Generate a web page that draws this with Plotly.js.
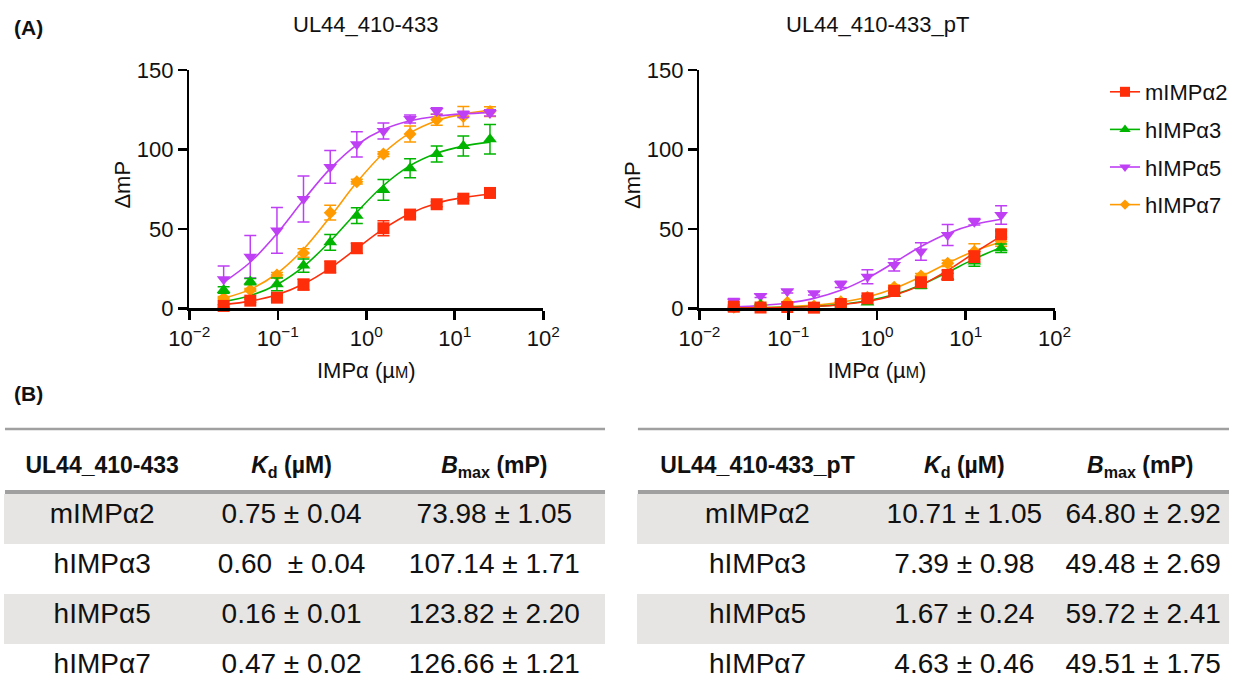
<!DOCTYPE html>
<html>
<head>
<meta charset="utf-8">
<script src="https://cdn.plot.ly/plotly-3.0.1.min.js"></script>
<style>html,body{margin:0;padding:0;background:#fff;overflow:hidden}#chart{width:1233px;height:700px}</style>
</head>
<body>
<div id="chart"></div>
<script>
// ---------- data ----------
const seriesNames = ['mIMPα2', 'hIMPα3', 'hIMPα5', 'hIMPα7'];
const conc = [0.0244, 0.0488, 0.0977, 0.195, 0.391, 0.781, 1.5625, 3.125, 6.25, 12.5, 25];

// Panel 1: UL44_410-433 (measured ΔmP, mean ± SD)
const a_m2 = [1.5, 4.8, 6.7, 14.9, 26, 37.8, 50.4, 59, 65.5, 69, 72.6];
const a_m2_err = [0.8, 1, 1.5, 3.4, 3.8, 3.1, 4.7, 1.5, 1.5, 1.2, 1.5];
const a_h3 = [11.5, 16.8, 15.1, 26.9, 41.5, 58.3, 74.5, 88.1, 97.1, 102.2, 106.4];
const a_h3_err = [2, 2, 4, 4.2, 5, 5, 6.5, 6, 5, 6.3, 9.3];
const a_h5 = [18.3, 32.5, 49, 68.8, 89, 103.2, 111.6, 119.2, 124.2, 122.1, 123];
const a_h5_err = [8.4, 13.4, 14.4, 14.4, 10.3, 8, 5, 2.5, 2, 2, 2];
const a_h7 = [6.5, 11.5, 21, 34.8, 60.2, 79.7, 97.1, 109.7, 118.7, 120.8, 123.8];
const a_h7_err = [1, 1, 1.5, 2.7, 4.6, 1.5, 1.5, 5, 3.5, 6.3, 3.1];
// Panel 1 fitted curves (read at the same concentrations)
const a_m2_fit = [2.3, 4.5, 8.5, 15.3, 25.3, 37.7, 50, 59.7, 66.1, 69.8, 71.8];
const a_h3_fit = [4.2, 8.0, 15, 26.3, 42.2, 60.5, 77.3, 89.8, 97.6, 102.1, 104.6];
const a_h5_fit = [16.4, 29, 47, 68.1, 87.9, 102.9, 112.5, 118, 120.9, 122.4, 123.2];
const a_h7_fit = [6.3, 11.9, 21.9, 37.2, 57.6, 79.3, 97.6, 110.4, 118.1, 122.4, 124.7];

// Panel 2: UL44_410-433_pT
const b_m2 = [1.0, 0.5, 0.8, 0.4, 2.7, 6.3, 10.9, 16.4, 21, 32.5, 46.6];
const b_m2_err = [0.5, 0.5, 0.5, 0.5, 1, 1.5, 1.5, 1.5, 3, 3.5, 2];
const b_h3 = [0, 2.1, 1.0, 0, 1.0, 3.6, 9, 14, 20, 29.4, 37.8];
const b_h3_err = [0.5, 0.5, 0.5, 0.5, 0.5, 1, 1, 1.5, 2, 3, 2.7];
const b_h5 = [4.2, 7.8, 10.7, 9.4, 15.1, 19.9, 27.3, 35.7, 46.2, 54.5, 58.7];
const b_h5_err = [2, 1, 1, 1, 2, 4.4, 3.8, 5.5, 6.6, 2, 5.8];
const b_h7 = [0.6, 2.1, 3.6, 1.5, 4.2, 6.9, 13.2, 20.4, 28.3, 35.7, 42];
const b_h7_err = [0.5, 0.5, 0.5, 0.5, 1, 1, 1.5, 1.5, 2, 5, 3];
const b_m2_fit = [0.15, 0.3, 0.58, 1.16, 2.28, 4.4, 8.24, 14.6, 23.9, 34.9, 45.4];
const b_h3_fit = [0.16, 0.33, 0.65, 1.28, 2.48, 4.72, 8.62, 14.7, 22.7, 31.1, 38.2];
const b_h5_fit = [0.86, 1.69, 3.3, 6.24, 11.3, 19.0, 28.8, 38.9, 47.1, 52.7, 56.0];
const b_h7_fit = [0.26, 0.52, 1.02, 2.0, 3.85, 7.14, 12.5, 19.9, 28.4, 36.1, 41.7];

// axis ticks
const xTickVals = [0.01, 0.1, 1, 10, 100];
const xTickText = ['10<sup>−2</sup>', '10<sup>−1</sup>', '10<sup>0</sup>', '10<sup>1</sup>', '10<sup>2</sup>'];
const yTickVals = [0, 50, 100, 150];

// tables
const tableA_title = 'UL44_410-433';
const tableB_title = 'UL44_410-433_pT';
const tableA_kd = ['0.75 ± 0.04', '0.60  ± 0.04', '0.16 ± 0.01', '0.47 ± 0.02'];
const tableA_bmax = ['73.98 ± 1.05', '107.14 ± 1.71', '123.82 ± 2.20', '126.66 ± 1.21'];
const tableB_kd = ['10.71 ± 1.05', '7.39 ± 0.98', '1.67 ± 0.24', '4.63 ± 0.46'];
const tableB_bmax = ['64.80 ± 2.92', '49.48 ± 2.69', '59.72 ± 2.41', '49.51 ± 1.75'];

// ---------- styling ----------
const W = 1233, H = 700;
const FONT = 'Liberation Sans, Arial, Helvetica, sans-serif';
const colors = ['#FF2E0A', '#00B400', '#BF3FF5', '#FF9A00'];
const symbols = ['square', 'triangle-up', 'triangle-down', 'diamond'];
const msize = [12, 12, 12, 10];
const px = x => x / W;
const py = y => 1 - y / H;
const nb = s => s.replace(/ /g, '\u00a0');

const panels = [
  {xa: 'x', ya: 'y', pts: [a_m2, a_h3, a_h5, a_h7], err: [a_m2_err, a_h3_err, a_h5_err, a_h7_err], fit: [a_m2_fit, a_h3_fit, a_h5_fit, a_h7_fit]},
  {xa: 'x2', ya: 'y2', pts: [b_m2, b_h3, b_h5, b_h7], err: [b_m2_err, b_h3_err, b_h5_err, b_h7_err], fit: [b_m2_fit, b_h3_fit, b_h5_fit, b_h7_fit]}
];
const drawOrder = [3, 2, 1, 0];
const traces = [];
panels.forEach(p => {
  drawOrder.forEach(i => {
    traces.push({x: conc, y: p.fit[i], xaxis: p.xa, yaxis: p.ya, type: 'scatter', mode: 'lines',
      line: {color: colors[i], width: 1.6, shape: 'spline'}, showlegend: false, hoverinfo: 'skip', cliponaxis: false});
  });
  drawOrder.forEach(i => {
    traces.push({x: conc, y: p.pts[i], xaxis: p.xa, yaxis: p.ya, type: 'scatter', mode: 'markers',
      marker: {color: colors[i], symbol: symbols[i], size: msize[i], line: {width: 0}},
      error_y: {type: 'data', array: p.err[i], visible: true, color: colors[i], thickness: 1.5, width: 6},
      showlegend: false, cliponaxis: false, name: seriesNames[i]});
  });
});
// legend entries
seriesNames.forEach((n, i) => {
  traces.push({x: [null], y: [null], xaxis: 'x2', yaxis: 'y2', type: 'scatter', mode: 'lines+markers', name: n,
    legendgroup: 'g' + i, line: {color: colors[i], width: 1.6},
    marker: {color: colors[i], symbol: symbols[i], size: msize[i] - 2}});
});

// tables (first cell row holds the column headings)
const rowFill = ['#FFFFFF', '#E6E5E3', '#FFFFFF', '#E6E5E3', '#FFFFFF'];
const rowSize = [23, 28, 28, 28, 28];
const kdHead = '<b><i>K</i><sub>d</sub>\u00a0(µM)</b>';
const bmHead = '<b><i>B</i><sub>max</sub>\u00a0(mP)</b>';
function makeTable(title, kd, bm, x0, x1, widths, align3) {
  return {
    type: 'table', domain: {x: [px(x0), px(x1)], y: [0, py(428)]},
    columnwidth: widths,
    header: {values: [[''], [''], ['']], align: 'center', height: 16,
      font: {family: FONT, size: 10, color: '#111'}, fill: {color: 'rgba(0,0,0,0)'}, line: {width: 0, color: 'rgba(0,0,0,0)'}},
    cells: {values: [['<b>' + nb(title) + '</b>'].concat(seriesNames), [kdHead].concat(kd.map(nb)), [bmHead].concat(bm.map(nb))],
      align: [['center'], ['center'], align3], height: 50,
      font: {family: FONT, size: [rowSize, rowSize, rowSize], color: '#111'},
      fill: {color: [rowFill, rowFill, rowFill]}, line: {width: 1, color: [rowFill, rowFill, rowFill]}}
  };
}
traces.push(makeTable(tableA_title, tableA_kd, tableA_bmax, 5, 607, [195, 185, 222], ['center']));
traces.push(makeTable(tableB_title, tableB_kd, tableB_bmax, 640, 1233, [240, 175, 178],
  ['center', 'right', 'right', 'right', 'right']));

const axisCommon = {
  showgrid: false, zeroline: false, showline: true, linecolor: '#000', linewidth: 2.6,
  ticks: 'outside', ticklen: 9, tickwidth: 2.6, tickcolor: '#000',
  tickfont: {family: FONT, size: 22, color: '#111'}, fixedrange: true
};
const xAxis = (dom) => Object.assign({}, axisCommon, {
  type: 'log', range: [-2, 2], domain: dom, tickmode: 'array', tickvals: xTickVals, ticktext: xTickText,
  title: {text: 'IMPα (µ<span style="font-size:16px">M</span>)', font: {family: FONT, size: 22, color: '#111'}, standoff: 13}
});
const yAxis = (anchor) => Object.assign({}, axisCommon, {
  range: [0, 150], domain: [py(308.3), py(70)], tickmode: 'array', tickvals: yTickVals, anchor: anchor
});

const ann = (text, x, y, opts) => Object.assign({text, x: px(x), y: py(y), xref: 'paper', yref: 'paper', showarrow: false,
  xanchor: 'center', yanchor: 'middle', font: {family: FONT, size: 22, color: '#111'}}, opts || {});

const layout = {
  width: W, height: H, margin: {l: 0, r: 0, t: 0, b: 0}, paper_bgcolor: '#fff', plot_bgcolor: '#fff',
  font: {family: FONT, color: '#111'},
  xaxis: Object.assign(xAxis([px(190), px(545)]), {anchor: 'y'}),
  yaxis: yAxis('x'),
  xaxis2: Object.assign(xAxis([px(701.7), px(1058)]), {anchor: 'y2'}),
  yaxis2: yAxis('x2'),
  showlegend: true,
  legend: {x: px(1109), y: py(71), xanchor: 'left', yanchor: 'top', font: {family: FONT, size: 22, color: '#111'},
    tracegroupgap: 6, bgcolor: 'rgba(0,0,0,0)', traceorder: 'grouped'},
  annotations: [
    ann('<b>(A)</b>', 12, 27, {xanchor: 'left', font: {family: FONT, size: 21, color: '#111'}}),
    ann('<b>(B)</b>', 12, 393, {xanchor: 'left', font: {family: FONT, size: 21, color: '#111'}}),
    ann('UL44_410-433', 367.5, 25),
    ann('UL44_410-433_pT', 880, 25),
    ann('ΔmP', 123, 185, {textangle: -90}),
    ann('ΔmP', 635, 185, {textangle: -90})
  ],
  shapes: [
    {type: 'line', xref: 'paper', yref: 'paper', x0: px(5), x1: px(607), y0: py(429), y1: py(429), line: {color: '#A0A0A0', width: 2.5}},
    {type: 'line', xref: 'paper', yref: 'paper', x0: px(5), x1: px(607), y0: py(492), y1: py(492), line: {color: '#A0A0A0', width: 4}},
    {type: 'line', xref: 'paper', yref: 'paper', x0: px(640), x1: 1, y0: py(429), y1: py(429), line: {color: '#A0A0A0', width: 2.5}},
    {type: 'line', xref: 'paper', yref: 'paper', x0: px(640), x1: 1, y0: py(492), y1: py(492), line: {color: '#A0A0A0', width: 4}}
  ]
};

Plotly.newPlot('chart', traces, layout, {displayModeBar: false, staticPlot: true});
</script>
</body>
</html>
